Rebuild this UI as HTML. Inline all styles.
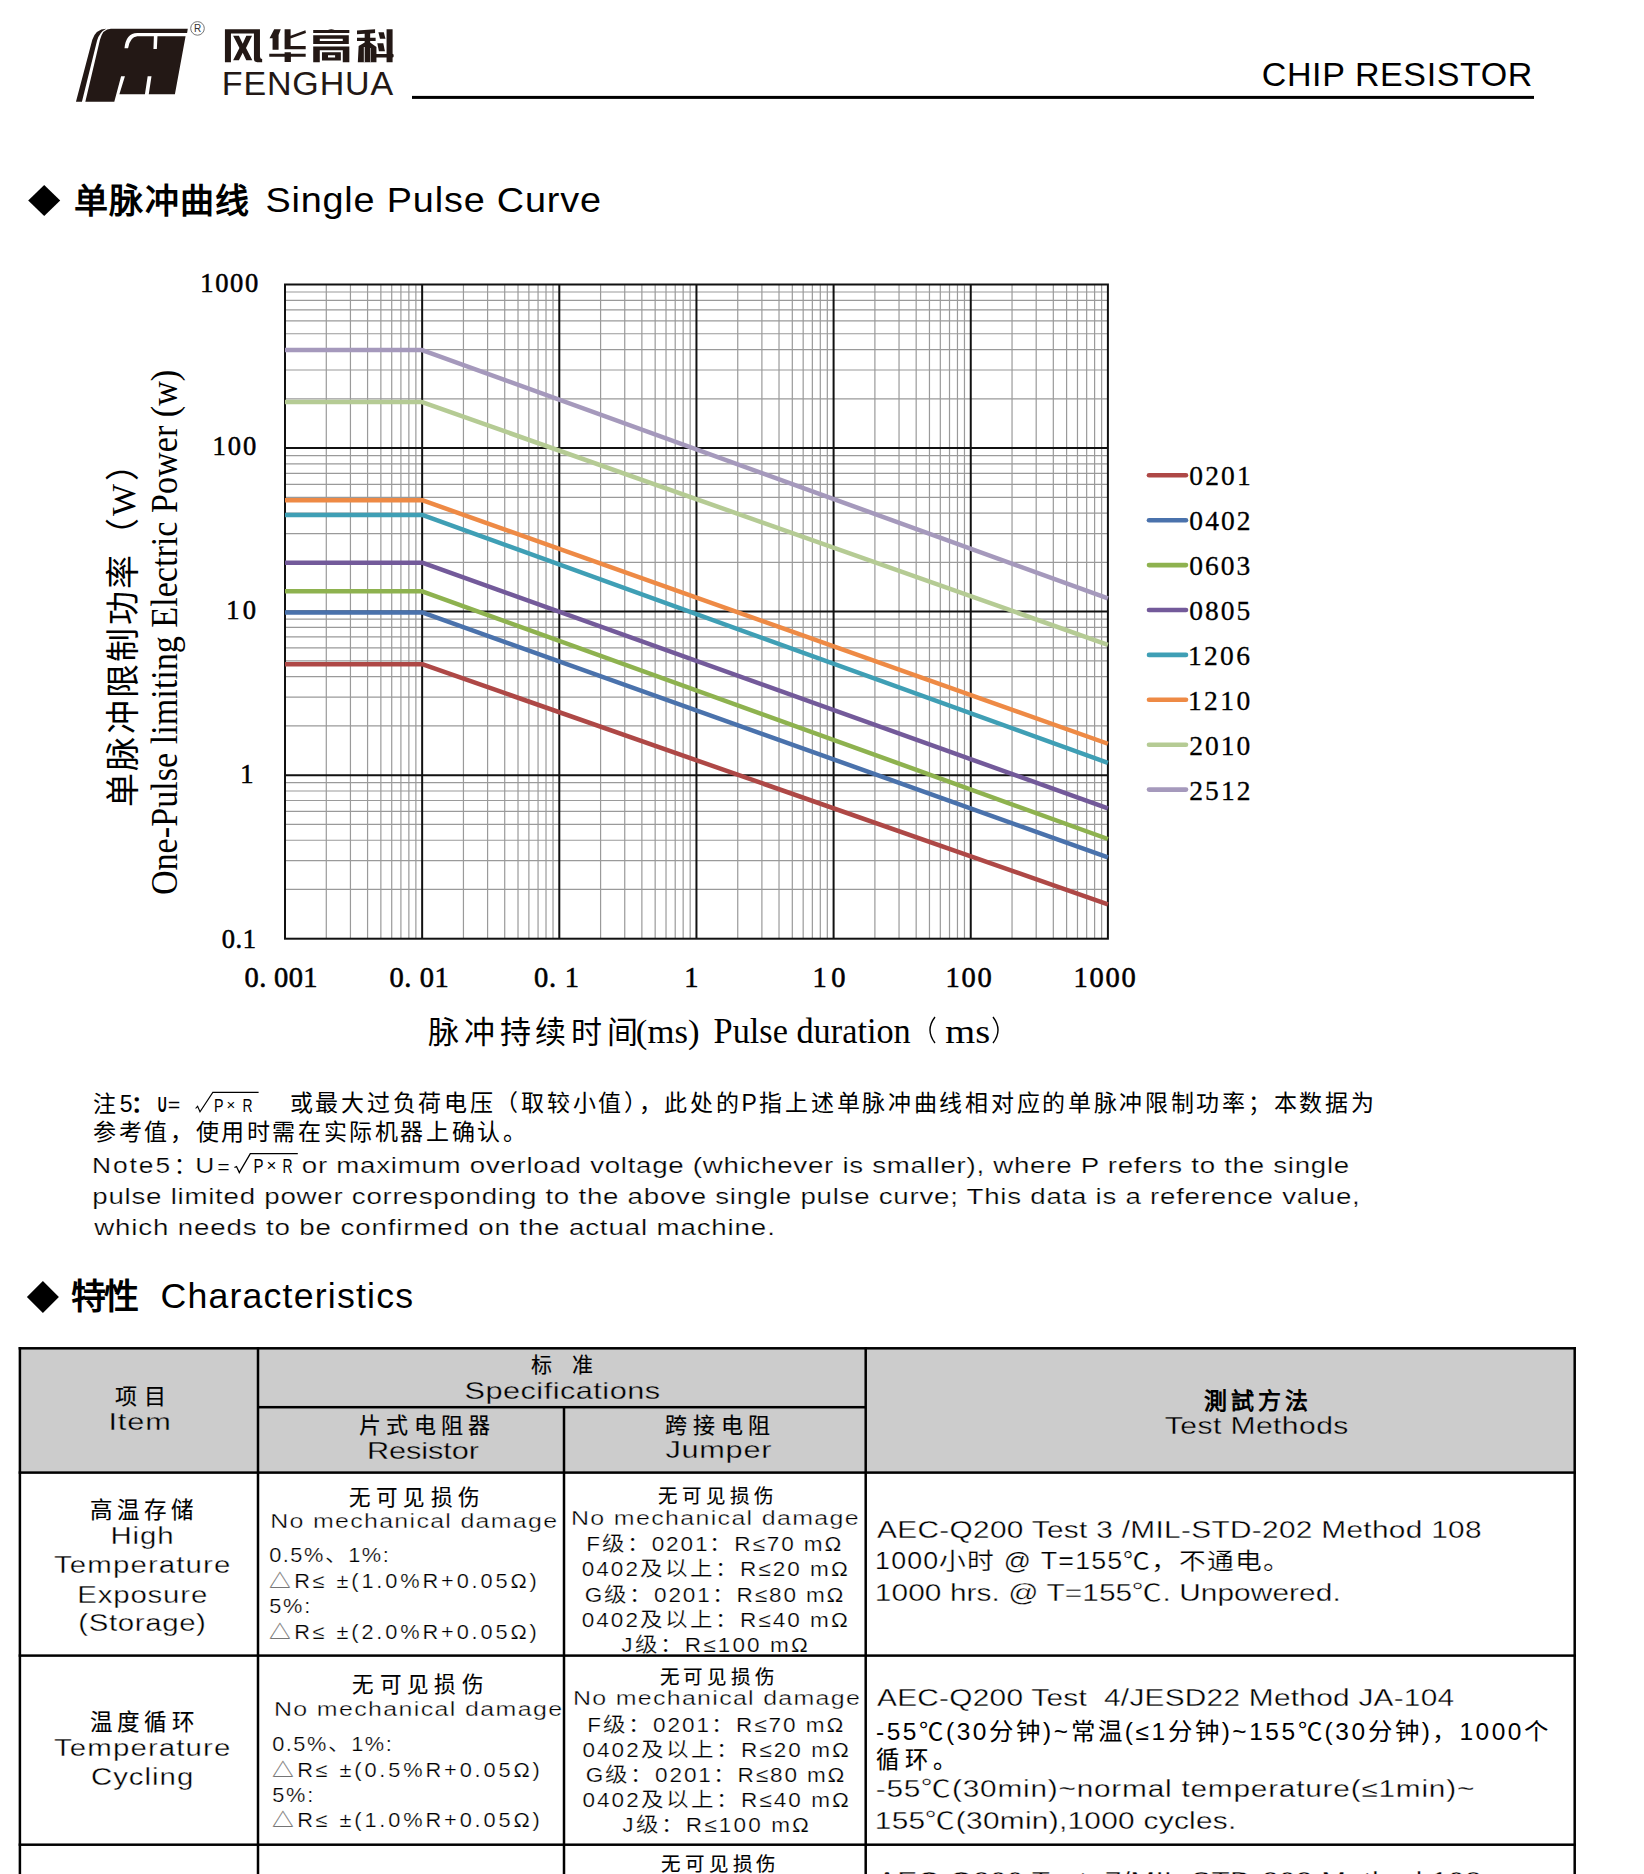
<!DOCTYPE html>
<html lang="zh-CN"><head><meta charset="utf-8"><title>Chip Resistor</title>
<style>html,body{margin:0;padding:0;background:#fff;width:1644px;height:1874px;overflow:hidden}svg{display:block}</style>
</head><body>
<svg width="1644" height="1874" viewBox="0 0 1644 1874">
<rect width="1644" height="1874" fill="#fff"/>
<g transform="translate(70,15) scale(0.085158)" fill="#231815">
<path d="M180,1020 L520,1020 L600,720 L645,720 L580,930 L880,930 L912,720 L957,720 L925,930 L1232,930 L1357,250 L1027,250 L1020,400 L980,400 L985,250 L790,250 Q705,255 682,390 L640,390 Q655,215 790,210 L1375,210 L1383,160 L480,160 Q385,160 352,290 Z"/>
<path d="M70,1020 L140,1020 L318,300 Q345,200 425,160 Q300,165 262,290 Z"/>
</g>
<circle cx="197.5" cy="28.4" r="6.8" fill="none" stroke="#666" stroke-width="0.9"/>
<text x="197.60" y="32.20" font-size="10" font-family="'Liberation Sans', sans-serif" text-anchor="middle" fill="#333">R</text>
<g transform="translate(220,24) scale(0.054745)" fill="#231815">
<path d="M90,95 L730,95 L730,600 Q735,640 770,640 L770,700 L680,700 Q620,700 620,640 L620,175 L200,175 L200,700 L90,700 Z"/>
<path d="M240,215 L345,215 L415,360 L480,215 L585,215 L475,440 L590,660 L480,660 L415,525 L345,660 L240,660 L355,440 Z"/>
<path d="M990,95 L1110,95 L1070,200 L1070,470 L960,470 L960,260 L905,260 Z"/>
<path d="M1180,95 L1290,95 L1290,215 L1560,115 L1570,165 L1290,265 L1290,400 L1565,400 L1565,460 L1180,460 Z"/>
<path d="M900,545 L1180,545 L1180,515 L1295,515 L1295,545 L1565,545 L1565,600 L1295,600 L1295,695 L1180,695 L1180,600 L900,600 Z"/>
</g>
<g transform="translate(305,24) scale(0.054745)" fill="#231815">
<path d="M150,110 L420,110 Q480,80 540,110 L810,110 L810,165 L150,165 Z"/>
<path d="M150,205 L800,205 L800,365 L150,365 Z M270,270 L270,310 L690,310 L690,270 Z" fill-rule="evenodd"/>
<path d="M150,410 L810,410 L810,700 L690,700 L690,480 L270,480 L270,700 L150,700 Z"/>
<path d="M310,515 L655,515 L655,665 L310,665 Z M420,570 L420,610 L550,610 L550,570 Z" fill-rule="evenodd"/>
<path d="M950,120 L1280,95 L1280,165 L1190,172 L1190,250 L1290,250 L1290,310 L1190,310 L1190,340 L1305,420 L1305,700 L1200,700 L1200,700 L1190,700 L1090,700 L1070,700 L965,700 L980,400 L1090,340 L1090,310 L950,310 L950,250 L1090,250 L1090,178 L950,188 Z"/>
<path d="M1075,420 L1090,420 L1090,700 L1075,700 Z" fill="#fff"/>
<path d="M1190,440 L1200,440 L1200,700 L1190,700 Z" fill="#fff"/>
<path d="M1340,150 L1440,150 L1470,270 L1370,270 Z"/>
<path d="M1320,350 L1430,350 L1460,500 L1350,500 Z"/>
<path d="M1490,95 L1600,95 L1600,545 Q1625,550 1620,590 Q1615,612 1600,612 L1600,700 L1490,700 L1490,612 L1290,612 L1290,550 L1490,550 Z"/>
</g>
<text x="221.81" y="95.40" font-size="34" font-family="'Liberation Sans', sans-serif" textLength="171.36" lengthAdjust="spacing" fill="#231815">FENGHUA</text>
<rect x="412" y="95.9" width="1122" height="3" fill="#000"/>
<text x="1261.77" y="85.90" font-size="34" font-family="'Liberation Sans', sans-serif" textLength="270.60" lengthAdjust="spacing">CHIP RESISTOR</text>
<path d="M28.200000000000003,200.5 L44.2,185.0 L60.2,200.5 L44.2,216.0 Z" fill="#000"/>
<text x="74.07" y="212.50" font-size="34" font-family="'Liberation Sans', sans-serif" font-weight="700" textLength="174.92" lengthAdjust="spacing">单脉冲曲线</text>
<g transform="translate(265.38,212.00) scale(1.08,1)">
<text x="0.00" y="0.00" font-size="35" font-family="'Liberation Sans', sans-serif" textLength="310.74" lengthAdjust="spacing">Single Pulse Curve</text>
</g>
<line x1="326.29" y1="284.5" x2="326.29" y2="938.70" stroke="#9a9a9a" stroke-width="1.2"/>
<line x1="350.44" y1="284.5" x2="350.44" y2="938.70" stroke="#9a9a9a" stroke-width="1.2"/>
<line x1="367.57" y1="284.5" x2="367.57" y2="938.70" stroke="#9a9a9a" stroke-width="1.2"/>
<line x1="380.86" y1="284.5" x2="380.86" y2="938.70" stroke="#9a9a9a" stroke-width="1.2"/>
<line x1="391.72" y1="284.5" x2="391.72" y2="938.70" stroke="#9a9a9a" stroke-width="1.2"/>
<line x1="400.91" y1="284.5" x2="400.91" y2="938.70" stroke="#9a9a9a" stroke-width="1.2"/>
<line x1="408.86" y1="284.5" x2="408.86" y2="938.70" stroke="#9a9a9a" stroke-width="1.2"/>
<line x1="415.87" y1="284.5" x2="415.87" y2="938.70" stroke="#9a9a9a" stroke-width="1.2"/>
<line x1="463.44" y1="284.5" x2="463.44" y2="938.70" stroke="#9a9a9a" stroke-width="1.2"/>
<line x1="487.59" y1="284.5" x2="487.59" y2="938.70" stroke="#9a9a9a" stroke-width="1.2"/>
<line x1="504.72" y1="284.5" x2="504.72" y2="938.70" stroke="#9a9a9a" stroke-width="1.2"/>
<line x1="518.01" y1="284.5" x2="518.01" y2="938.70" stroke="#9a9a9a" stroke-width="1.2"/>
<line x1="528.87" y1="284.5" x2="528.87" y2="938.70" stroke="#9a9a9a" stroke-width="1.2"/>
<line x1="538.06" y1="284.5" x2="538.06" y2="938.70" stroke="#9a9a9a" stroke-width="1.2"/>
<line x1="546.01" y1="284.5" x2="546.01" y2="938.70" stroke="#9a9a9a" stroke-width="1.2"/>
<line x1="553.02" y1="284.5" x2="553.02" y2="938.70" stroke="#9a9a9a" stroke-width="1.2"/>
<line x1="600.59" y1="284.5" x2="600.59" y2="938.70" stroke="#9a9a9a" stroke-width="1.2"/>
<line x1="624.74" y1="284.5" x2="624.74" y2="938.70" stroke="#9a9a9a" stroke-width="1.2"/>
<line x1="641.87" y1="284.5" x2="641.87" y2="938.70" stroke="#9a9a9a" stroke-width="1.2"/>
<line x1="655.16" y1="284.5" x2="655.16" y2="938.70" stroke="#9a9a9a" stroke-width="1.2"/>
<line x1="666.02" y1="284.5" x2="666.02" y2="938.70" stroke="#9a9a9a" stroke-width="1.2"/>
<line x1="675.21" y1="284.5" x2="675.21" y2="938.70" stroke="#9a9a9a" stroke-width="1.2"/>
<line x1="683.16" y1="284.5" x2="683.16" y2="938.70" stroke="#9a9a9a" stroke-width="1.2"/>
<line x1="690.17" y1="284.5" x2="690.17" y2="938.70" stroke="#9a9a9a" stroke-width="1.2"/>
<line x1="737.74" y1="284.5" x2="737.74" y2="938.70" stroke="#9a9a9a" stroke-width="1.2"/>
<line x1="761.89" y1="284.5" x2="761.89" y2="938.70" stroke="#9a9a9a" stroke-width="1.2"/>
<line x1="779.02" y1="284.5" x2="779.02" y2="938.70" stroke="#9a9a9a" stroke-width="1.2"/>
<line x1="792.31" y1="284.5" x2="792.31" y2="938.70" stroke="#9a9a9a" stroke-width="1.2"/>
<line x1="803.17" y1="284.5" x2="803.17" y2="938.70" stroke="#9a9a9a" stroke-width="1.2"/>
<line x1="812.36" y1="284.5" x2="812.36" y2="938.70" stroke="#9a9a9a" stroke-width="1.2"/>
<line x1="820.31" y1="284.5" x2="820.31" y2="938.70" stroke="#9a9a9a" stroke-width="1.2"/>
<line x1="827.32" y1="284.5" x2="827.32" y2="938.70" stroke="#9a9a9a" stroke-width="1.2"/>
<line x1="874.89" y1="284.5" x2="874.89" y2="938.70" stroke="#9a9a9a" stroke-width="1.2"/>
<line x1="899.04" y1="284.5" x2="899.04" y2="938.70" stroke="#9a9a9a" stroke-width="1.2"/>
<line x1="916.17" y1="284.5" x2="916.17" y2="938.70" stroke="#9a9a9a" stroke-width="1.2"/>
<line x1="929.46" y1="284.5" x2="929.46" y2="938.70" stroke="#9a9a9a" stroke-width="1.2"/>
<line x1="940.32" y1="284.5" x2="940.32" y2="938.70" stroke="#9a9a9a" stroke-width="1.2"/>
<line x1="949.51" y1="284.5" x2="949.51" y2="938.70" stroke="#9a9a9a" stroke-width="1.2"/>
<line x1="957.46" y1="284.5" x2="957.46" y2="938.70" stroke="#9a9a9a" stroke-width="1.2"/>
<line x1="964.47" y1="284.5" x2="964.47" y2="938.70" stroke="#9a9a9a" stroke-width="1.2"/>
<line x1="1012.04" y1="284.5" x2="1012.04" y2="938.70" stroke="#9a9a9a" stroke-width="1.2"/>
<line x1="1036.19" y1="284.5" x2="1036.19" y2="938.70" stroke="#9a9a9a" stroke-width="1.2"/>
<line x1="1053.32" y1="284.5" x2="1053.32" y2="938.70" stroke="#9a9a9a" stroke-width="1.2"/>
<line x1="1066.61" y1="284.5" x2="1066.61" y2="938.70" stroke="#9a9a9a" stroke-width="1.2"/>
<line x1="1077.47" y1="284.5" x2="1077.47" y2="938.70" stroke="#9a9a9a" stroke-width="1.2"/>
<line x1="1086.66" y1="284.5" x2="1086.66" y2="938.70" stroke="#9a9a9a" stroke-width="1.2"/>
<line x1="1094.61" y1="284.5" x2="1094.61" y2="938.70" stroke="#9a9a9a" stroke-width="1.2"/>
<line x1="1101.62" y1="284.5" x2="1101.62" y2="938.70" stroke="#9a9a9a" stroke-width="1.2"/>
<line x1="285.0" y1="398.82" x2="1107.90" y2="398.82" stroke="#9a9a9a" stroke-width="1.2"/>
<line x1="285.0" y1="370.02" x2="1107.90" y2="370.02" stroke="#9a9a9a" stroke-width="1.2"/>
<line x1="285.0" y1="349.58" x2="1107.90" y2="349.58" stroke="#9a9a9a" stroke-width="1.2"/>
<line x1="285.0" y1="333.73" x2="1107.90" y2="333.73" stroke="#9a9a9a" stroke-width="1.2"/>
<line x1="285.0" y1="320.78" x2="1107.90" y2="320.78" stroke="#9a9a9a" stroke-width="1.2"/>
<line x1="285.0" y1="309.83" x2="1107.90" y2="309.83" stroke="#9a9a9a" stroke-width="1.2"/>
<line x1="285.0" y1="300.35" x2="1107.90" y2="300.35" stroke="#9a9a9a" stroke-width="1.2"/>
<line x1="285.0" y1="291.98" x2="1107.90" y2="291.98" stroke="#9a9a9a" stroke-width="1.2"/>
<line x1="285.0" y1="562.37" x2="1107.90" y2="562.37" stroke="#9a9a9a" stroke-width="1.2"/>
<line x1="285.0" y1="533.57" x2="1107.90" y2="533.57" stroke="#9a9a9a" stroke-width="1.2"/>
<line x1="285.0" y1="513.13" x2="1107.90" y2="513.13" stroke="#9a9a9a" stroke-width="1.2"/>
<line x1="285.0" y1="497.28" x2="1107.90" y2="497.28" stroke="#9a9a9a" stroke-width="1.2"/>
<line x1="285.0" y1="484.33" x2="1107.90" y2="484.33" stroke="#9a9a9a" stroke-width="1.2"/>
<line x1="285.0" y1="473.38" x2="1107.90" y2="473.38" stroke="#9a9a9a" stroke-width="1.2"/>
<line x1="285.0" y1="463.90" x2="1107.90" y2="463.90" stroke="#9a9a9a" stroke-width="1.2"/>
<line x1="285.0" y1="455.53" x2="1107.90" y2="455.53" stroke="#9a9a9a" stroke-width="1.2"/>
<line x1="285.0" y1="725.92" x2="1107.90" y2="725.92" stroke="#9a9a9a" stroke-width="1.2"/>
<line x1="285.0" y1="697.12" x2="1107.90" y2="697.12" stroke="#9a9a9a" stroke-width="1.2"/>
<line x1="285.0" y1="676.68" x2="1107.90" y2="676.68" stroke="#9a9a9a" stroke-width="1.2"/>
<line x1="285.0" y1="660.83" x2="1107.90" y2="660.83" stroke="#9a9a9a" stroke-width="1.2"/>
<line x1="285.0" y1="647.88" x2="1107.90" y2="647.88" stroke="#9a9a9a" stroke-width="1.2"/>
<line x1="285.0" y1="636.93" x2="1107.90" y2="636.93" stroke="#9a9a9a" stroke-width="1.2"/>
<line x1="285.0" y1="627.45" x2="1107.90" y2="627.45" stroke="#9a9a9a" stroke-width="1.2"/>
<line x1="285.0" y1="619.08" x2="1107.90" y2="619.08" stroke="#9a9a9a" stroke-width="1.2"/>
<line x1="285.0" y1="889.47" x2="1107.90" y2="889.47" stroke="#9a9a9a" stroke-width="1.2"/>
<line x1="285.0" y1="860.67" x2="1107.90" y2="860.67" stroke="#9a9a9a" stroke-width="1.2"/>
<line x1="285.0" y1="840.23" x2="1107.90" y2="840.23" stroke="#9a9a9a" stroke-width="1.2"/>
<line x1="285.0" y1="824.38" x2="1107.90" y2="824.38" stroke="#9a9a9a" stroke-width="1.2"/>
<line x1="285.0" y1="811.43" x2="1107.90" y2="811.43" stroke="#9a9a9a" stroke-width="1.2"/>
<line x1="285.0" y1="800.48" x2="1107.90" y2="800.48" stroke="#9a9a9a" stroke-width="1.2"/>
<line x1="285.0" y1="791.00" x2="1107.90" y2="791.00" stroke="#9a9a9a" stroke-width="1.2"/>
<line x1="285.0" y1="782.63" x2="1107.90" y2="782.63" stroke="#9a9a9a" stroke-width="1.2"/>
<line x1="422.15" y1="284.5" x2="422.15" y2="938.70" stroke="#111" stroke-width="2"/>
<line x1="559.30" y1="284.5" x2="559.30" y2="938.70" stroke="#111" stroke-width="2"/>
<line x1="696.45" y1="284.5" x2="696.45" y2="938.70" stroke="#111" stroke-width="2"/>
<line x1="833.60" y1="284.5" x2="833.60" y2="938.70" stroke="#111" stroke-width="2"/>
<line x1="970.75" y1="284.5" x2="970.75" y2="938.70" stroke="#111" stroke-width="2"/>
<line x1="285.0" y1="448.05" x2="1107.90" y2="448.05" stroke="#111" stroke-width="2"/>
<line x1="285.0" y1="611.60" x2="1107.90" y2="611.60" stroke="#111" stroke-width="2"/>
<line x1="285.0" y1="775.15" x2="1107.90" y2="775.15" stroke="#111" stroke-width="2"/>
<rect x="285.0" y="284.5" width="822.90" height="654.20" fill="none" stroke="#111" stroke-width="2"/>
<path d="M285.00,664.18 L422.15,664.18 L1107.90,904.43" fill="none" stroke="#AE4846" stroke-width="4.5" stroke-linejoin="round"/>
<path d="M285.00,612.39 L422.15,612.39 L1107.90,857.43" fill="none" stroke="#4A72AC" stroke-width="4.5" stroke-linejoin="round"/>
<path d="M285.00,591.34 L422.15,591.34 L1107.90,839.00" fill="none" stroke="#8EB24F" stroke-width="4.5" stroke-linejoin="round"/>
<path d="M285.00,562.72 L422.15,562.72 L1107.90,808.31" fill="none" stroke="#735A9A" stroke-width="4.5" stroke-linejoin="round"/>
<path d="M285.00,514.93 L422.15,514.93 L1107.90,762.85" fill="none" stroke="#3F9FB5" stroke-width="4.5" stroke-linejoin="round"/>
<path d="M285.00,500.18 L422.15,500.18 L1107.90,743.75" fill="none" stroke="#EE8A45" stroke-width="4.5" stroke-linejoin="round"/>
<path d="M285.00,402.12 L422.15,402.12 L1107.90,644.76" fill="none" stroke="#B5CB94" stroke-width="4.5" stroke-linejoin="round"/>
<path d="M285.00,350.12 L422.15,350.12 L1107.90,598.35" fill="none" stroke="#A599BC" stroke-width="4.5" stroke-linejoin="round"/>
<line x1="1149" y1="475.30" x2="1186" y2="475.30" stroke="#AE4846" stroke-width="4.6" stroke-linecap="round"/>
<text x="1189.35" y="485.30" font-size="27.5" font-family="'Liberation Serif', serif" textLength="61.40" lengthAdjust="spacing" stroke="#000" stroke-width="0.3">0201</text>
<line x1="1149" y1="520.20" x2="1186" y2="520.20" stroke="#4A72AC" stroke-width="4.6" stroke-linecap="round"/>
<text x="1189.35" y="530.20" font-size="27.5" font-family="'Liberation Serif', serif" textLength="61.26" lengthAdjust="spacing" stroke="#000" stroke-width="0.3">0402</text>
<line x1="1149" y1="565.10" x2="1186" y2="565.10" stroke="#8EB24F" stroke-width="4.6" stroke-linecap="round"/>
<text x="1189.35" y="575.10" font-size="27.5" font-family="'Liberation Serif', serif" textLength="60.82" lengthAdjust="spacing" stroke="#000" stroke-width="0.3">0603</text>
<line x1="1149" y1="610.00" x2="1186" y2="610.00" stroke="#735A9A" stroke-width="4.6" stroke-linecap="round"/>
<text x="1189.35" y="620.00" font-size="27.5" font-family="'Liberation Serif', serif" textLength="60.82" lengthAdjust="spacing" stroke="#000" stroke-width="0.3">0805</text>
<line x1="1149" y1="654.90" x2="1186" y2="654.90" stroke="#3F9FB5" stroke-width="4.6" stroke-linecap="round"/>
<text x="1187.98" y="664.90" font-size="27.5" font-family="'Liberation Serif', serif" textLength="61.94" lengthAdjust="spacing" stroke="#000" stroke-width="0.3">1206</text>
<line x1="1149" y1="699.80" x2="1186" y2="699.80" stroke="#EE8A45" stroke-width="4.6" stroke-linecap="round"/>
<text x="1187.98" y="709.80" font-size="27.5" font-family="'Liberation Serif', serif" textLength="62.16" lengthAdjust="spacing" stroke="#000" stroke-width="0.3">1210</text>
<line x1="1149" y1="744.70" x2="1186" y2="744.70" stroke="#B5CB94" stroke-width="4.6" stroke-linecap="round"/>
<text x="1189.19" y="754.70" font-size="27.5" font-family="'Liberation Serif', serif" textLength="60.96" lengthAdjust="spacing" stroke="#000" stroke-width="0.3">2010</text>
<line x1="1149" y1="789.60" x2="1186" y2="789.60" stroke="#A599BC" stroke-width="4.6" stroke-linecap="round"/>
<text x="1189.19" y="799.60" font-size="27.5" font-family="'Liberation Serif', serif" textLength="61.43" lengthAdjust="spacing" stroke="#000" stroke-width="0.3">2512</text>
<text x="200.17" y="292.00" font-size="26.5" font-family="'Liberation Serif', serif" textLength="58.14" lengthAdjust="spacing" stroke="#000" stroke-width="0.55">1000</text>
<text x="212.57" y="455.00" font-size="26.5" font-family="'Liberation Serif', serif" textLength="43.64" lengthAdjust="spacing" stroke="#000" stroke-width="0.55">100</text>
<text x="226.17" y="618.60" font-size="26.5" font-family="'Liberation Serif', serif" textLength="29.84" lengthAdjust="spacing" stroke="#000" stroke-width="0.55">10</text>
<text x="240.27" y="783.20" font-size="26.5" font-family="'Liberation Serif', serif" textLength="15.72" lengthAdjust="spacing" stroke="#000" stroke-width="0.55">1</text>
<text x="221.69" y="947.60" font-size="26.5" font-family="'Liberation Serif', serif" textLength="34.30" lengthAdjust="spacing" stroke="#000" stroke-width="0.55">0.1</text>
<text x="244.51" y="987.30" font-size="28.5" font-family="'Liberation Serif', serif" textLength="73.10" lengthAdjust="spacing" stroke="#000" stroke-width="0.55">0. 001</text>
<text x="389.51" y="987.30" font-size="28.5" font-family="'Liberation Serif', serif" textLength="59.20" lengthAdjust="spacing" stroke="#000" stroke-width="0.55">0. 01</text>
<text x="533.91" y="987.30" font-size="28.5" font-family="'Liberation Serif', serif" textLength="45.20" lengthAdjust="spacing" stroke="#000" stroke-width="0.55">0. 1</text>
<text x="684.30" y="987.30" font-size="28.5" font-family="'Liberation Serif', serif" textLength="17.72" lengthAdjust="spacing" stroke="#000" stroke-width="0.55">1</text>
<text x="812.50" y="987.30" font-size="28.5" font-family="'Liberation Serif', serif" textLength="32.99" lengthAdjust="spacing" stroke="#000" stroke-width="0.55">10</text>
<text x="945.50" y="987.30" font-size="28.5" font-family="'Liberation Serif', serif" textLength="46.29" lengthAdjust="spacing" stroke="#000" stroke-width="0.55">100</text>
<text x="1073.50" y="987.30" font-size="28.5" font-family="'Liberation Serif', serif" textLength="62.29" lengthAdjust="spacing" stroke="#000" stroke-width="0.55">1000</text>
<text x="428.39" y="1042.50" font-size="31" font-family="'Liberation Serif', serif" textLength="209.31" lengthAdjust="spacing">脉冲持续时间</text>
<text x="635.85" y="1042.50" font-size="33" font-family="'Liberation Serif', serif" textLength="63.60" lengthAdjust="spacingAndGlyphs">(ms)</text>
<text x="713.59" y="1043.00" font-size="35" font-family="'Liberation Serif', serif" textLength="197.14" lengthAdjust="spacingAndGlyphs">Pulse duration</text>
<path d="M935,1017 Q925,1030 935,1043" fill="none" stroke="#000" stroke-width="1.4"/>
<text x="945.31" y="1042.50" font-size="33" font-family="'Liberation Serif', serif" textLength="44.89" lengthAdjust="spacingAndGlyphs">ms</text>
<path d="M993,1017 Q1003,1030 993,1043" fill="none" stroke="#000" stroke-width="1.4"/>
<g transform="rotate(-90)">
<text x="-807.34" y="134.50" font-size="34" font-family="'Liberation Serif', serif" textLength="359.97" lengthAdjust="spacing">单脉冲限制功率（W）</text>
<text x="-895.12" y="176.90" font-size="37" font-family="'Liberation Serif', serif" textLength="525.34" lengthAdjust="spacingAndGlyphs">One-Pulse limiting Electric Power (w)</text>
</g>
<text x="93.13" y="1111.50" font-size="23" font-family="'Liberation Sans', sans-serif" textLength="39.33" lengthAdjust="spacing">注5</text>
<text x="131.00" y="1111.50" font-size="23" font-family="'Liberation Sans', sans-serif" font-weight="700">：</text>
<text x="157.80" y="1111.50" font-size="22" font-family="'Liberation Sans', sans-serif" font-weight="700" textLength="9.00" lengthAdjust="spacingAndGlyphs">U</text>
<text x="167.80" y="1112.00" font-size="20" font-family="'Liberation Sans', sans-serif" textLength="12.50" lengthAdjust="spacingAndGlyphs">=</text>
<path d="M195.6,1108.5 L197.6,1106.3 L200,1111.8 L212.8,1092.4 L258.6,1092.4" fill="none" stroke="#000" stroke-width="1.1"/>
<text x="214.00" y="1112.00" font-size="18" font-family="'Liberation Sans', sans-serif" textLength="9.50" lengthAdjust="spacingAndGlyphs">P</text>
<text x="226.50" y="1110.00" font-size="15" font-family="'Liberation Sans', sans-serif">×</text>
<text x="242.50" y="1112.00" font-size="18" font-family="'Liberation Sans', sans-serif" textLength="10.00" lengthAdjust="spacingAndGlyphs">R</text>
<text x="289.77" y="1110.80" font-size="23" font-family="'Liberation Sans', sans-serif" textLength="1083.90" lengthAdjust="spacing">或最大过负荷电压（取较小值），此处的P指上述单脉冲曲线相对应的单脉冲限制功率；本数据为</text>
<text x="93.20" y="1140.20" font-size="23" font-family="'Liberation Sans', sans-serif" textLength="432.52" lengthAdjust="spacing">参考值，使用时需在实际机器上确认。</text>
<g transform="translate(91.93,1172.60) scale(1.2,1)">
<text x="0.00" y="0.00" font-size="22" font-family="'Liberation Sans', sans-serif" textLength="65.15" lengthAdjust="spacing" stroke="#fff" stroke-width="0.25">Note5</text>
</g>
<text x="174.00" y="1172.60" font-size="22" font-family="'Liberation Sans', sans-serif">：</text>
<g transform="translate(195.16,1172.60) scale(1.2,1)">
<text x="0.00" y="0.00" font-size="22" font-family="'Liberation Sans', sans-serif" textLength="16.31" lengthAdjust="spacing" stroke="#fff" stroke-width="0.25">U</text>
</g>
<text x="217.50" y="1172.60" font-size="18" font-family="'Liberation Sans', sans-serif" textLength="12.00" lengthAdjust="spacingAndGlyphs">=</text>
<path d="M234.4,1167.5 L236.5,1166.6 L239.3,1172.6 L250.3,1153.6 L297.8,1153.6" fill="none" stroke="#000" stroke-width="1.3"/>
<text x="253.50" y="1172.60" font-size="20" font-family="'Liberation Sans', sans-serif" textLength="10.00" lengthAdjust="spacingAndGlyphs">P</text>
<text x="266.50" y="1170.50" font-size="17" font-family="'Liberation Sans', sans-serif">×</text>
<text x="282.50" y="1172.60" font-size="20" font-family="'Liberation Sans', sans-serif" textLength="10.00" lengthAdjust="spacingAndGlyphs">R</text>
<g transform="translate(301.84,1172.60) scale(1.26,1)">
<text x="0.00" y="0.00" font-size="22" font-family="'Liberation Sans', sans-serif" textLength="831.27" lengthAdjust="spacing" stroke="#fff" stroke-width="0.25">or maximum overload voltage (whichever is smaller), where P refers to the single</text>
</g>
<g transform="translate(92.31,1203.50) scale(1.26,1)">
<text x="0.00" y="0.00" font-size="22" font-family="'Liberation Sans', sans-serif" textLength="1005.93" lengthAdjust="spacing" stroke="#fff" stroke-width="0.25">pulse limited power corresponding to the above single pulse curve; This data is a reference value,</text>
</g>
<g transform="translate(94.14,1235.30) scale(1.26,1)">
<text x="0.00" y="0.00" font-size="22" font-family="'Liberation Sans', sans-serif" textLength="540.23" lengthAdjust="spacing" stroke="#fff" stroke-width="0.25">which needs to be confirmed on the actual machine.</text>
</g>
<path d="M26.9,1297 L42.9,1281 L58.9,1297 L42.9,1313 Z" fill="#000"/>
<text x="71.46" y="1308.50" font-size="35" font-family="'Liberation Sans', sans-serif" font-weight="700" textLength="67.80" lengthAdjust="spacing">特性</text>
<text x="160.49" y="1307.60" font-size="35.7" font-family="'Liberation Sans', sans-serif" textLength="252.50" lengthAdjust="spacing">Characteristics</text>
<rect x="20" y="1348" width="1555" height="124.6" fill="#cccccc"/>
<rect x="18.65" y="1347.05" width="1557.3" height="2.5" fill="#000"/>
<rect x="258" y="1405.95" width="607.7" height="2.5" fill="#000"/>
<rect x="18.65" y="1471.35" width="1557.3" height="2.5" fill="#000"/>
<rect x="18.65" y="1654.35" width="1557.3" height="2.5" fill="#000"/>
<rect x="18.65" y="1843.45" width="1557.3" height="2.5" fill="#000"/>
<rect x="18.65" y="1347" width="2.5" height="527" fill="#000"/>
<rect x="256.75" y="1347" width="2.5" height="527" fill="#000"/>
<rect x="562.75" y="1407" width="2.5" height="467" fill="#000"/>
<rect x="864.45" y="1347" width="2.5" height="527" fill="#000"/>
<rect x="1573.45" y="1347" width="2.5" height="527" fill="#000"/>
<text x="115.26" y="1403.50" font-size="22" font-family="'Liberation Sans', sans-serif" textLength="50.72" lengthAdjust="spacing" stroke="#000" stroke-width="0.15">项目</text>
<g transform="translate(108.47,1430.40) scale(1.28,1)">
<text x="0.00" y="0.00" font-size="24" font-family="'Liberation Sans', sans-serif" textLength="48.72" lengthAdjust="spacing" stroke="#ccc" stroke-width="0.32">Item</text>
</g>
<text x="531.20" y="1371.50" font-size="21" font-family="'Liberation Sans', sans-serif" textLength="61.57" lengthAdjust="spacing" stroke="#000" stroke-width="0.15">标 准</text>
<g transform="translate(464.50,1398.70) scale(1.28,1)">
<text x="0.00" y="0.00" font-size="24" font-family="'Liberation Sans', sans-serif" textLength="152.82" lengthAdjust="spacing" stroke="#ccc" stroke-width="0.32">Specifications</text>
</g>
<text x="358.76" y="1432.50" font-size="22" font-family="'Liberation Sans', sans-serif" textLength="131.55" lengthAdjust="spacing" stroke="#000" stroke-width="0.15">片式电阻器</text>
<g transform="translate(366.88,1458.90) scale(1.28,1)">
<text x="0.00" y="0.00" font-size="24" font-family="'Liberation Sans', sans-serif" textLength="87.60" lengthAdjust="spacing" stroke="#ccc" stroke-width="0.32">Resistor</text>
</g>
<text x="665.14" y="1432.50" font-size="22" font-family="'Liberation Sans', sans-serif" textLength="105.19" lengthAdjust="spacing" stroke="#000" stroke-width="0.15">跨接电阻</text>
<g transform="translate(665.52,1457.50) scale(1.28,1)">
<text x="0.00" y="0.00" font-size="24" font-family="'Liberation Sans', sans-serif" textLength="82.73" lengthAdjust="spacing" stroke="#ccc" stroke-width="0.32">Jumper</text>
</g>
<text x="1204.36" y="1409.00" font-size="23" font-family="'Liberation Sans', sans-serif" font-weight="600" textLength="103.72" lengthAdjust="spacing">測試方法</text>
<g transform="translate(1164.82,1434.20) scale(1.28,1)">
<text x="0.00" y="0.00" font-size="23.5" font-family="'Liberation Sans', sans-serif" textLength="143.41" lengthAdjust="spacing" stroke="#ccc" stroke-width="0.32">Test Methods</text>
</g>
<text x="89.77" y="1518.30" font-size="22.5" font-family="'Liberation Sans', sans-serif" textLength="104.45" lengthAdjust="spacing" stroke="#000" stroke-width="0.15">高温存储</text>
<g transform="translate(110.38,1544.40) scale(1.28,1)">
<text x="0.00" y="0.00" font-size="23" font-family="'Liberation Sans', sans-serif" textLength="49.32" lengthAdjust="spacing" stroke="#fff" stroke-width="0.32">High</text>
</g>
<g transform="translate(54.04,1573.10) scale(1.28,1)">
<text x="0.00" y="0.00" font-size="23" font-family="'Liberation Sans', sans-serif" textLength="137.71" lengthAdjust="spacing" stroke="#fff" stroke-width="0.32">Temperature</text>
</g>
<g transform="translate(77.18,1602.50) scale(1.28,1)">
<text x="0.00" y="0.00" font-size="23" font-family="'Liberation Sans', sans-serif" textLength="101.66" lengthAdjust="spacing" stroke="#fff" stroke-width="0.32">Exposure</text>
</g>
<g transform="translate(78.37,1630.60) scale(1.28,1)">
<text x="0.00" y="0.00" font-size="23" font-family="'Liberation Sans', sans-serif" textLength="99.65" lengthAdjust="spacing" stroke="#fff" stroke-width="0.32">(Storage)</text>
</g>
<text x="348.76" y="1504.50" font-size="21.5" font-family="'Liberation Sans', sans-serif" textLength="131.46" lengthAdjust="spacing" stroke="#000" stroke-width="0.15">无可见损伤</text>
<g transform="translate(270.25,1527.50) scale(1.28,1)">
<text x="0.00" y="0.00" font-size="19.5" font-family="'Liberation Sans', sans-serif" textLength="224.11" lengthAdjust="spacing" stroke="#fff" stroke-width="0.32">No mechanical damage</text>
</g>
<g transform="translate(269.15,1562.00) scale(1.1,1)">
<text x="0.00" y="0.00" font-size="19.8" font-family="'Liberation Sans', sans-serif" textLength="108.76" lengthAdjust="spacing" stroke="#fff" stroke-width="0.25">0.5%、1%:</text>
</g>
<g transform="translate(269.35,1588.00) scale(1.1,1)">
<text x="0.00" y="0.00" font-size="19.8" font-family="'Liberation Sans', sans-serif" textLength="243.19" lengthAdjust="spacing" stroke="#fff" stroke-width="0.25">△R≤ ±(1.0%R+0.05Ω)</text>
</g>
<g transform="translate(269.13,1612.60) scale(1.1,1)">
<text x="0.00" y="0.00" font-size="19.8" font-family="'Liberation Sans', sans-serif" textLength="37.51" lengthAdjust="spacing" stroke="#fff" stroke-width="0.25">5%:</text>
</g>
<g transform="translate(269.35,1638.60) scale(1.1,1)">
<text x="0.00" y="0.00" font-size="19.8" font-family="'Liberation Sans', sans-serif" textLength="243.19" lengthAdjust="spacing" stroke="#fff" stroke-width="0.25">△R≤ ±(2.0%R+0.05Ω)</text>
</g>
<text x="658.44" y="1503.00" font-size="19.5" font-family="'Liberation Sans', sans-serif" textLength="115.34" lengthAdjust="spacing" stroke="#000" stroke-width="0.15">无可见损伤</text>
<g transform="translate(570.95,1525.00) scale(1.28,1)">
<text x="0.00" y="0.00" font-size="19.5" font-family="'Liberation Sans', sans-serif" textLength="224.81" lengthAdjust="spacing" stroke="#fff" stroke-width="0.32">No mechanical damage</text>
</g>
<g transform="translate(586.15,1550.90) scale(1.1,1)">
<text x="0.00" y="0.00" font-size="20.5" font-family="'Liberation Sans', sans-serif" textLength="231.93" lengthAdjust="spacing" stroke="#fff" stroke-width="0.25">F级：0201：R≤70 mΩ</text>
</g>
<g transform="translate(581.72,1576.20) scale(1.1,1)">
<text x="0.00" y="0.00" font-size="20.5" font-family="'Liberation Sans', sans-serif" textLength="241.86" lengthAdjust="spacing" stroke="#fff" stroke-width="0.25">0402及以上：R≤20 mΩ</text>
</g>
<g transform="translate(584.77,1601.50) scale(1.1,1)">
<text x="0.00" y="0.00" font-size="20.5" font-family="'Liberation Sans', sans-serif" textLength="235.18" lengthAdjust="spacing" stroke="#fff" stroke-width="0.25">G级：0201：R≤80 mΩ</text>
</g>
<g transform="translate(581.72,1626.80) scale(1.1,1)">
<text x="0.00" y="0.00" font-size="20.5" font-family="'Liberation Sans', sans-serif" textLength="241.86" lengthAdjust="spacing" stroke="#fff" stroke-width="0.25">0402及以上：R≤40 mΩ</text>
</g>
<g transform="translate(621.15,1652.10) scale(1.1,1)">
<text x="0.00" y="0.00" font-size="20.5" font-family="'Liberation Sans', sans-serif" textLength="169.75" lengthAdjust="spacing" stroke="#fff" stroke-width="0.25">J级：R≤100 mΩ</text>
</g>
<g transform="translate(877.04,1537.70) scale(1.28,1)">
<text x="0.00" y="0.00" font-size="23.3" font-family="'Liberation Sans', sans-serif" textLength="472.31" lengthAdjust="spacing" stroke="#fff" stroke-width="0.32">AEC-Q200 Test 3 /MIL-STD-202 Method 108</text>
</g>
<g transform="translate(875.06,1568.60) scale(1.15,1)">
<text x="0.00" y="0.00" font-size="23.3" font-family="'Liberation Sans', sans-serif" textLength="360.29" lengthAdjust="spacing" stroke="#fff" stroke-width="0.25">1000小时 @ T=155℃，不通电。</text>
</g>
<g transform="translate(874.83,1601.30) scale(1.28,1)">
<text x="0.00" y="0.00" font-size="23.3" font-family="'Liberation Sans', sans-serif" textLength="363.98" lengthAdjust="spacing" stroke="#fff" stroke-width="0.32">1000 hrs. @ T=155℃. Unpowered.</text>
</g>
<text x="89.64" y="1729.70" font-size="22.5" font-family="'Liberation Sans', sans-serif" textLength="104.92" lengthAdjust="spacing" stroke="#000" stroke-width="0.15">温度循环</text>
<g transform="translate(54.04,1756.40) scale(1.28,1)">
<text x="0.00" y="0.00" font-size="23" font-family="'Liberation Sans', sans-serif" textLength="137.71" lengthAdjust="spacing" stroke="#fff" stroke-width="0.32">Temperature</text>
</g>
<g transform="translate(90.91,1784.50) scale(1.28,1)">
<text x="0.00" y="0.00" font-size="23" font-family="'Liberation Sans', sans-serif" textLength="79.99" lengthAdjust="spacing" stroke="#fff" stroke-width="0.32">Cycling</text>
</g>
<text x="352.16" y="1692.00" font-size="21.5" font-family="'Liberation Sans', sans-serif" textLength="131.37" lengthAdjust="spacing" stroke="#000" stroke-width="0.15">无可见损伤</text>
<g transform="translate(273.95,1715.50) scale(1.28,1)">
<text x="0.00" y="0.00" font-size="19.5" font-family="'Liberation Sans', sans-serif" textLength="225.12" lengthAdjust="spacing" stroke="#fff" stroke-width="0.32">No mechanical damage</text>
</g>
<g transform="translate(272.15,1751.00) scale(1.1,1)">
<text x="0.00" y="0.00" font-size="19.8" font-family="'Liberation Sans', sans-serif" textLength="108.76" lengthAdjust="spacing" stroke="#fff" stroke-width="0.25">0.5%、1%:</text>
</g>
<g transform="translate(272.35,1777.00) scale(1.1,1)">
<text x="0.00" y="0.00" font-size="19.8" font-family="'Liberation Sans', sans-serif" textLength="243.19" lengthAdjust="spacing" stroke="#fff" stroke-width="0.25">△R≤ ±(0.5%R+0.05Ω)</text>
</g>
<g transform="translate(272.13,1801.50) scale(1.1,1)">
<text x="0.00" y="0.00" font-size="19.8" font-family="'Liberation Sans', sans-serif" textLength="37.51" lengthAdjust="spacing" stroke="#fff" stroke-width="0.25">5%:</text>
</g>
<g transform="translate(272.35,1827.00) scale(1.1,1)">
<text x="0.00" y="0.00" font-size="19.8" font-family="'Liberation Sans', sans-serif" textLength="243.19" lengthAdjust="spacing" stroke="#fff" stroke-width="0.25">△R≤ ±(1.0%R+0.05Ω)</text>
</g>
<text x="659.54" y="1684.00" font-size="19.5" font-family="'Liberation Sans', sans-serif" textLength="115.35" lengthAdjust="spacing" stroke="#000" stroke-width="0.15">无可见损伤</text>
<g transform="translate(573.05,1705.00) scale(1.28,1)">
<text x="0.00" y="0.00" font-size="19.5" font-family="'Liberation Sans', sans-serif" textLength="224.03" lengthAdjust="spacing" stroke="#fff" stroke-width="0.32">No mechanical damage</text>
</g>
<g transform="translate(587.15,1732.00) scale(1.1,1)">
<text x="0.00" y="0.00" font-size="20.5" font-family="'Liberation Sans', sans-serif" textLength="233.02" lengthAdjust="spacing" stroke="#fff" stroke-width="0.25">F级：0201：R≤70 mΩ</text>
</g>
<g transform="translate(582.42,1757.10) scale(1.1,1)">
<text x="0.00" y="0.00" font-size="20.5" font-family="'Liberation Sans', sans-serif" textLength="242.23" lengthAdjust="spacing" stroke="#fff" stroke-width="0.25">0402及以上：R≤20 mΩ</text>
</g>
<g transform="translate(585.87,1782.20) scale(1.1,1)">
<text x="0.00" y="0.00" font-size="20.5" font-family="'Liberation Sans', sans-serif" textLength="235.09" lengthAdjust="spacing" stroke="#fff" stroke-width="0.25">G级：0201：R≤80 mΩ</text>
</g>
<g transform="translate(582.42,1807.30) scale(1.1,1)">
<text x="0.00" y="0.00" font-size="20.5" font-family="'Liberation Sans', sans-serif" textLength="242.23" lengthAdjust="spacing" stroke="#fff" stroke-width="0.25">0402及以上：R≤40 mΩ</text>
</g>
<g transform="translate(622.15,1832.40) scale(1.1,1)">
<text x="0.00" y="0.00" font-size="20.5" font-family="'Liberation Sans', sans-serif" textLength="169.84" lengthAdjust="spacing" stroke="#fff" stroke-width="0.25">J级：R≤100 mΩ</text>
</g>
<g transform="translate(877.04,1706.40) scale(1.28,1)">
<text x="0.00" y="0.00" font-size="23.3" font-family="'Liberation Sans', sans-serif" textLength="450.88" lengthAdjust="spacing" stroke="#fff" stroke-width="0.32">AEC-Q200 Test  4/JESD22 Method JA-104</text>
</g>
<g transform="translate(876.01,1739.70) scale(1.05,1)">
<text x="0.00" y="0.00" font-size="23.3" font-family="'Liberation Sans', sans-serif" textLength="640.52" lengthAdjust="spacing">-55℃(30分钟)~常温(≤1分钟)~155℃(30分钟)，1000个</text>
</g>
<text x="876.38" y="1768.00" font-size="23.3" font-family="'Liberation Sans', sans-serif" textLength="79.84" lengthAdjust="spacing" stroke="#000" stroke-width="0.15">循环。</text>
<g transform="translate(875.77,1797.30) scale(1.28,1)">
<text x="0.00" y="0.00" font-size="23.3" font-family="'Liberation Sans', sans-serif" textLength="467.63" lengthAdjust="spacing" stroke="#fff" stroke-width="0.32">-55℃(30min)~normal temperature(≤1min)~</text>
</g>
<g transform="translate(874.83,1828.90) scale(1.28,1)">
<text x="0.00" y="0.00" font-size="23.3" font-family="'Liberation Sans', sans-serif" textLength="282.42" lengthAdjust="spacing" stroke="#fff" stroke-width="0.32">155℃(30min),1000 cycles.</text>
</g>
<text x="661.24" y="1871.00" font-size="19.5" font-family="'Liberation Sans', sans-serif" textLength="115.14" lengthAdjust="spacing" stroke="#000" stroke-width="0.15">无可见损伤</text>
<g transform="translate(877.04,1888.70) scale(1.28,1)">
<text x="0.00" y="0.00" font-size="23.3" font-family="'Liberation Sans', sans-serif" textLength="472.31" lengthAdjust="spacing" stroke="#fff" stroke-width="0.32">AEC-Q200 Test  7/MIL-STD-202 Method 108</text>
</g>
</svg>
</body></html>
